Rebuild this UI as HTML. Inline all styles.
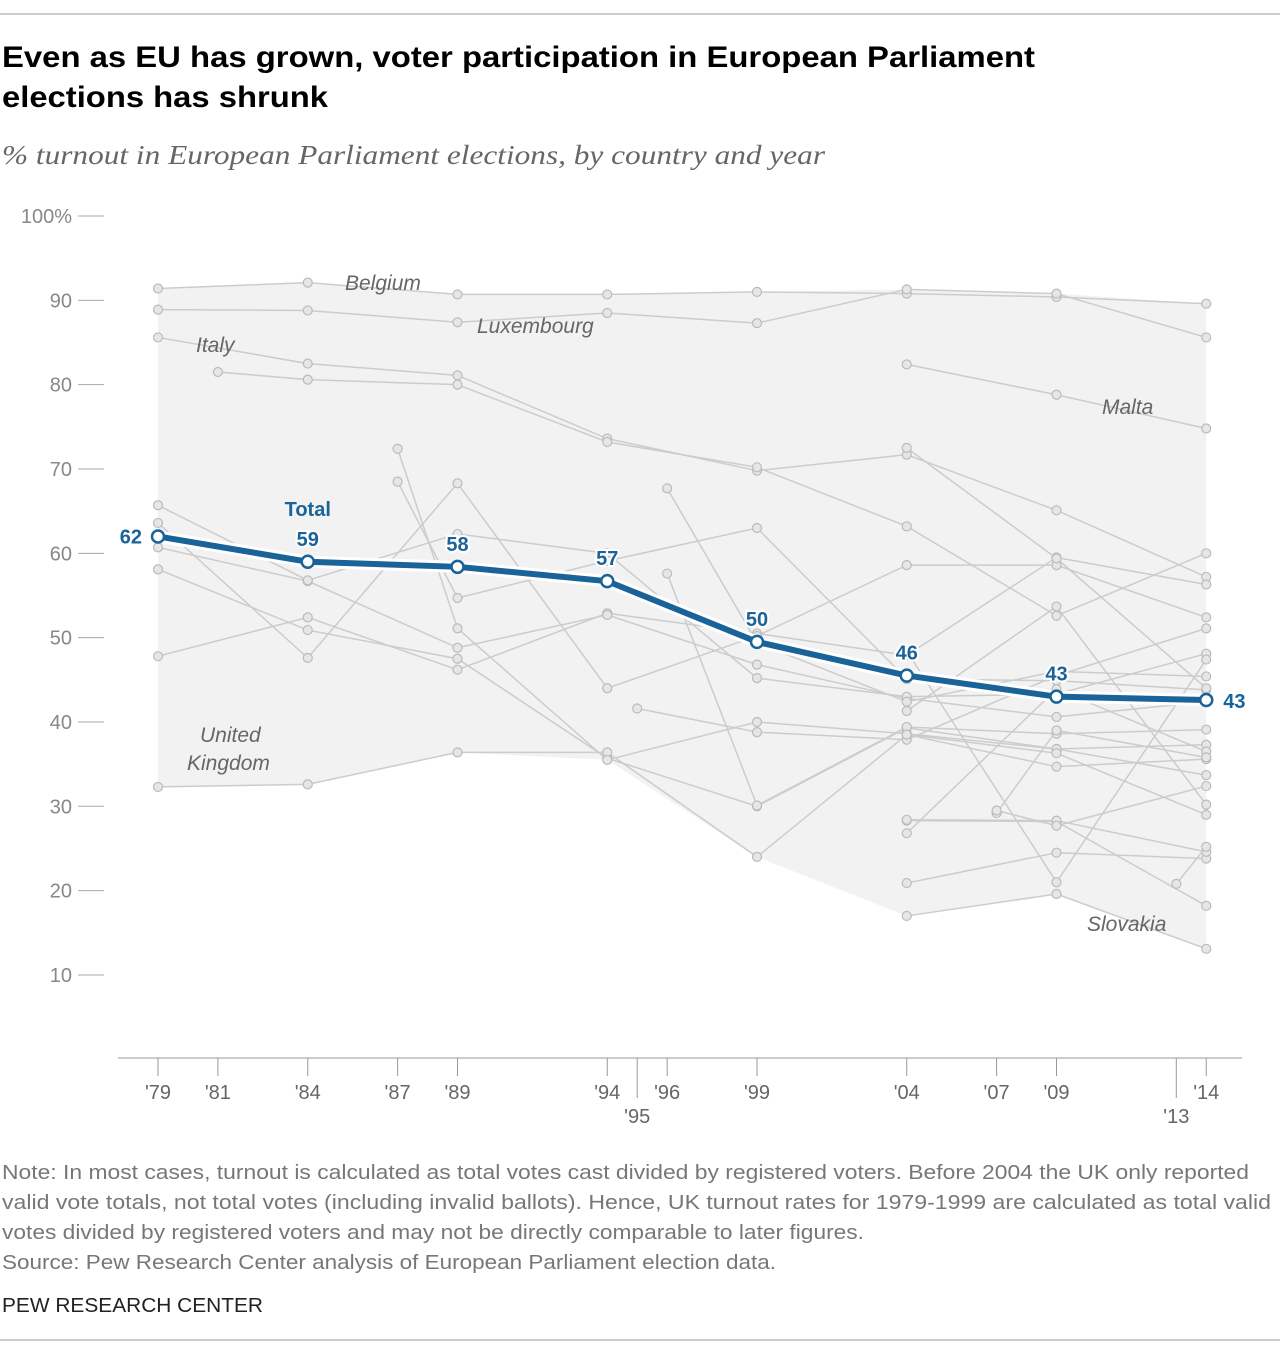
<!DOCTYPE html>
<html><head><meta charset="utf-8"><style>
body{margin:0;background:#fff;font-family:"Liberation Sans",sans-serif}
svg text{font-family:"Liberation Sans",sans-serif}
</style></head><body>
<svg width="1280" height="1356" xmlns="http://www.w3.org/2000/svg">
<line x1="0" y1="14" x2="1280" y2="14" stroke="#999"/>
<text x="2" y="67" font-size="30" font-weight="bold" fill="#000" textLength="1033" lengthAdjust="spacingAndGlyphs">Even as EU has grown, voter participation in European Parliament</text>
<text x="2" y="107" font-size="30" font-weight="bold" fill="#000" textLength="326" lengthAdjust="spacingAndGlyphs">elections has shrunk</text>
<text x="2" y="164" font-size="27" font-style="italic" fill="#666" textLength="823" lengthAdjust="spacingAndGlyphs" style="font-family:'Liberation Serif',serif">% turnout in European Parliament elections, by country and year</text>
<g id="plot"></g>
<g font-size="20" fill="#777">
<text x="2" y="1179" textLength="1247" lengthAdjust="spacingAndGlyphs">Note: In most cases, turnout is calculated as total votes cast divided by registered voters. Before 2004 the UK only reported</text>
<text x="2" y="1209" textLength="1269" lengthAdjust="spacingAndGlyphs">valid vote totals, not total votes (including invalid ballots). Hence, UK turnout rates for 1979-1999 are calculated as total valid</text>
<text x="2" y="1239" textLength="862" lengthAdjust="spacingAndGlyphs">votes divided by registered voters and may not be directly comparable to later figures.</text>
<text x="2" y="1269" textLength="774" lengthAdjust="spacingAndGlyphs">Source: Pew Research Center analysis of European Parliament election data.</text>
</g>
<text x="2" y="1312" font-size="20" fill="#222" textLength="261" lengthAdjust="spacingAndGlyphs">PEW RESEARCH CENTER</text>
<line x1="0" y1="1340" x2="1280" y2="1340" stroke="#999"/>
</svg>
<script>
const countryNames=["Belgium","Luxembourg","Italy","Greece","Malta","Denmark","Ireland","France","Germany","Netherlands","UK","Spain","Portugal","Sweden","Austria","Finland","Czech","Slovakia","Poland","Slovenia","Hungary","Estonia","Latvia","Lithuania","Cyprus","Bulgaria","Romania","Croatia"];
const countryYears=[
[1979,1984,1989,1994,1999,2004,2009,2014],[1979,1984,1989,1994,1999,2004,2009,2014],[1979,1984,1989,1994,1999,2004,2009,2014],[1981,1984,1989,1994,1999,2004,2009,2014],[2004,2009,2014],
[1979,1984,1989,1994,1999,2004,2009,2014],[1979,1984,1989,1994,1999,2004,2009,2014],[1979,1984,1989,1994,1999,2004,2009,2014],[1979,1984,1989,1994,1999,2004,2009,2014],[1979,1984,1989,1994,1999,2004,2009,2014],[1979,1984,1989,1994,1999,2004,2009,2014],
[1987,1989,1994,1999,2004,2009,2014],[1987,1989,1994,1999,2004,2009,2014],[1995,1999,2004,2009,2014],[1996,1999,2004,2009,2014],[1996,1999,2004,2009,2014],
[2004,2009,2014],[2004,2009,2014],[2004,2009,2014],[2004,2009,2014],[2004,2009,2014],[2004,2009,2014],[2004,2009,2014],[2004,2009,2014],[2004,2009,2014],[2007,2009,2014],[2007,2009,2014],[2013,2014]];
const countryValues=[
[91.4,92.1,90.7,90.7,91.0,90.8,90.4,89.6],[88.9,88.8,87.4,88.5,87.3,91.3,90.8,85.6],[85.6,82.5,81.1,73.6,69.8,71.7,65.1,57.2],[81.5,80.6,80.0,73.2,70.2,63.2,52.6,60.0],[82.4,78.8,74.8],
[47.8,52.4,46.2,52.9,50.5,47.9,59.5,56.3],[63.6,47.6,68.3,44.0,50.2,58.6,58.6,52.4],[60.7,56.7,48.8,52.7,46.8,42.8,40.6,42.4],[65.7,56.8,62.3,60.0,45.2,43.0,43.3,48.1],[58.1,50.9,47.5,35.7,30.0,39.3,36.8,37.3],[32.3,32.6,36.4,36.4,24.0,38.5,34.7,35.6],
[68.5,54.7,59.1,63.0,45.1,44.9,43.8],[72.4,51.1,35.5,40.0,38.6,36.8,33.7],[41.6,38.8,37.9,45.5,51.1],[67.7,49.4,42.4,46.0,45.4],[57.6,30.1,39.4,38.6,39.1],
[28.3,28.2,18.2],[17.0,19.6,13.1],[20.9,24.5,23.8],[28.4,28.3,24.6],[38.5,36.3,29.0],[26.8,43.9,36.5],[41.3,53.7,30.2],[48.4,21.0,47.4],[72.5,59.4,44.0],[29.2,39.0,35.8],[29.5,27.7,32.4],[20.8,25.2]];
const totalYears=[1979,1984,1989,1994,1999,2004,2009,2014];
const totalValues=[62,59,58.4,56.7,49.5,45.5,43,42.6];
const totalLabels=["62","59","58","57","50","46","43","43"];
const yTicks=[100,90,80,70,60,50,40,30,20,10];
const xTickYears=[1979,1981,1984,1987,1989,1994,1995,1996,1999,2004,2007,2009,2013,2014];

const NS="http://www.w3.org/2000/svg";
const X=y=>158+(y-1979)*29.95;
const Y=v=>216+(100-v)*8.433;
const g=document.getElementById('plot');
function mk(t,a,parent){const e=document.createElementNS(NS,t);for(const k in a)e.setAttribute(k,a[k]);(parent||g).appendChild(e);return e;}
yTicks.forEach(v=>{
 const l=mk('line',{x1:78,x2:104,y1:Y(v),y2:Y(v),stroke:'#aaa'});
 
 
 const t=mk('text',{x:72,y:Y(v)+7,'text-anchor':'end','font-size':20,fill:'#888'});
 t.textContent=v===100?'100%':String(v);
 
 
});
const electionYears=[1979,1984,1989,1994,1999,2004,2009,2014];
const topPts=[],botPts=[];
electionYears.forEach(yr=>{let mx=-1,mn=1e9;countryYears.forEach((ys,i)=>{const j=ys.indexOf(yr);if(j>=0){mx=Math.max(mx,countryValues[i][j]);mn=Math.min(mn,countryValues[i][j]);}});topPts.push([X(yr),Y(mx)]);botPts.push([X(yr),Y(mn)]);});
const poly=mk('polygon',{points:topPts.concat(botPts.slice().reverse()).map(p=>p.join(',')).join(' '),fill:'#f2f2f2'});


countryNames.forEach((n,i)=>{
 const pts=countryYears[i].map((yr,j)=>[X(yr),Y(countryValues[i][j])]);
 const pl=mk('polyline',{points:pts.map(p=>p.join(',')).join(' '),fill:'none',stroke:'#ccc','stroke-width':1.5});
 
 
 pts.forEach(p=>{const c=mk('circle',{cx:p[0],cy:p[1],r:4.5,fill:'#e6e6e6',stroke:'#bbb','stroke-width':1.2});
 
 });
});
[["Belgium",345,290],["Luxembourg",477,333],["Italy",196,352],["Malta",1102,414],["United",200,742],["Kingdom",187,770],["Slovakia",1087,931]].forEach(a=>{
 const t=mk('text',{x:a[1],y:a[2],'font-size':21,'font-style':'italic',fill:'#666'});t.textContent=a[0];
 
 
});
const tp=totalYears.map((yr,j)=>[X(yr),Y(totalValues[j])]);
const halo=mk('polyline',{points:tp.map(p=>p.join(',')).join(' '),fill:'none',stroke:'#fff','stroke-width':12});


const tl=mk('polyline',{points:tp.map(p=>p.join(',')).join(' '),fill:'none',stroke:'#1a6399','stroke-width':6});


tp.forEach((p,j)=>{
 const c=mk('circle',{cx:p[0],cy:p[1],r:6,fill:'#fff',stroke:'#1a6399','stroke-width':2.5});
 
 
 let x=p[0],y=p[1]-16,anc='middle';
 if(j===0){x=p[0]-16;y=p[1]+7;anc='end';}
 if(j===totalYears.length-1){x=p[0]+17;y=p[1]+8;anc='start';}
 const t=mk('text',{x:x,y:y,'text-anchor':anc,'font-size':20,'font-weight':'bold',fill:'#1a6399',stroke:'#fff','stroke-width':4,'paint-order':'stroke'});
 t.textContent=totalLabels[j];
 
 
});
const tt=mk('text',{x:X(1984),y:Y(totalValues[1])-46,'text-anchor':'middle','font-size':20,'font-weight':'bold',fill:'#1a6399'});
tt.textContent='Total';


const ax=mk('line',{x1:118,x2:1242,y1:1058,y2:1058,stroke:'#999'});


xTickYears.forEach(yr=>{
 const low=(yr===1995||yr===2013);
 const l=mk('line',{x1:X(yr),x2:X(yr),y1:1058,y2:low?1098:1076,stroke:'#999'});
 
 
 const t=mk('text',{x:X(yr),y:low?1123:1099,'text-anchor':'middle','font-size':20,fill:'#666'});
 t.textContent="'"+String(yr).slice(2);
 
 
});
</script>
</body></html>
